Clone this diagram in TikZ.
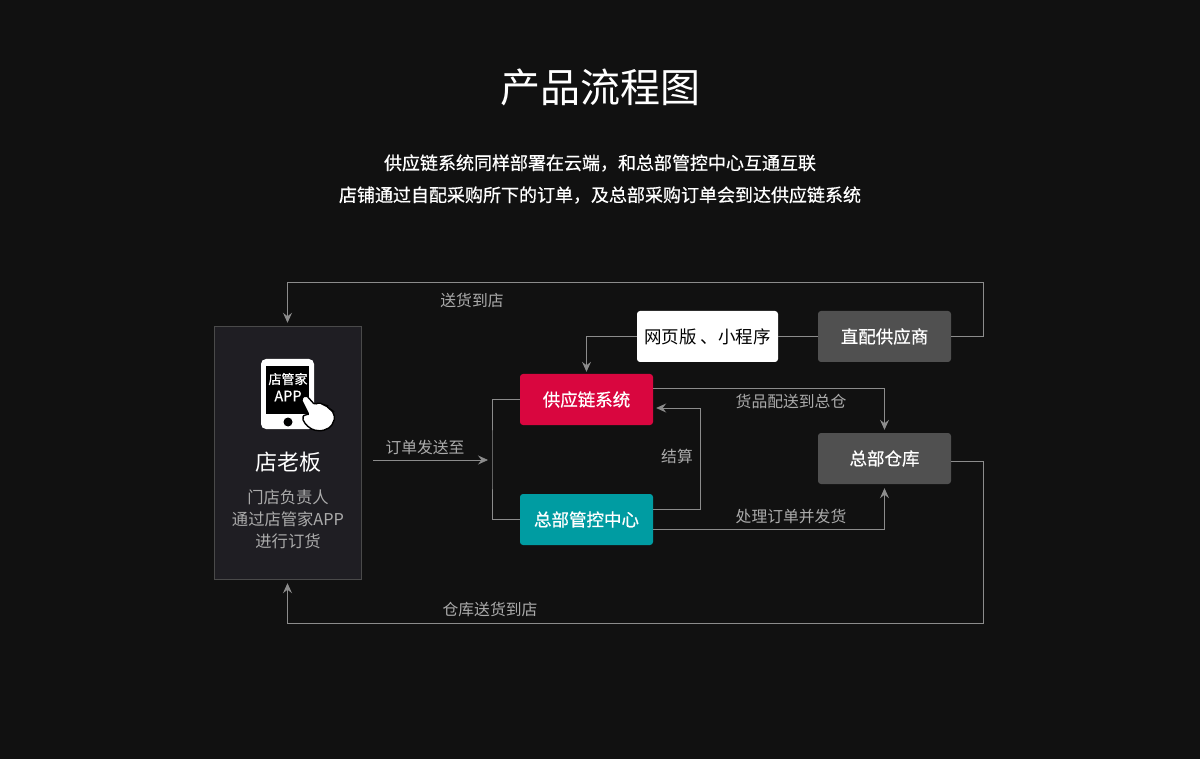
\documentclass[tikz,border=0pt]{standalone}
\usepackage{fontspec}
\setmainfont{Noto Sans CJK SC}
\newfontfamily\midfont{Noto Sans CJK SC}[FakeBold=0.6]
\usepackage{xcolor}
\usetikzlibrary{arrows.meta,positioning}

\definecolor{bgc}{HTML}{111111}
\definecolor{panelc}{HTML}{1F1E23}
\definecolor{edgec}{HTML}{4A4A4A}
\definecolor{linec}{HTML}{8C8C8C}
\definecolor{labelc}{HTML}{ABABAB}
\definecolor{redc}{HTML}{D9063F}
\definecolor{tealc}{HTML}{009CA2}
\definecolor{greyc}{HTML}{505050}

\begin{document}
\begin{tikzpicture}[
  x=1pt,y=-1pt,
  box/.style={rounded corners=3pt, minimum width=133pt, minimum height=51pt,
    inner sep=0pt, text=white, font=\midfont\fontsize{17.5}{20}\selectfont},
  lbl/.style={text=labelc, inner sep=0pt, font=\fontsize{15.8}{18}\selectfont},
  flow/.style={draw=linec, line width=0.8pt},
  ->,>={Stealth[length=10pt,width=9pt,inset=3.5pt]}
]
\fill[bgc] (0,0) rectangle (1200,759);
\useasboundingbox (0,0) rectangle (1200,759);

% title
\node[text=white, font=\fontsize{40}{44}\selectfont] (title) at (600,87) {产品流程图};
\node[text=white, align=center, font=\midfont\fontsize{18}{32}\selectfont] (sub) at (600,179)
  {供应链系统同样部署在云端，和总部管控中心互通互联\\店铺通过自配采购所下的订单，及总部采购订单会到达供应链系统};

% store owner panel
\node[draw=edgec, fill=panelc, minimum width=147pt, minimum height=253pt] (boss) at (287.5,452.5) {};
\fill[white, rounded corners=5pt] (261,359) rectangle (314,429);
\fill[black] (266,366) rectangle (309,414);
\fill[black] (288,422) circle (4.5);
\node[text=white, inner sep=0pt, font=\midfont\fontsize{13}{14}\selectfont] (appa) at (288,379) {店管家};
\node[text=white, inner sep=0pt, font=\midfont\fontsize{14.5}{15}\selectfont] (appb) at (288,396) {APP};
\filldraw[fill=white, draw=black, line width=1.4pt, rounded corners=2pt]
  (301,399) -- (306,395) -- (315,405) -- (319,402) -- (323,405) -- (326,405)
  -- (329,409) -- (332,410) -- (335,418) -- (331,427) -- (322,431) -- (313,430)
  -- (306,425) -- (302,418) -- (305,414) -- (309,415) -- cycle;
\node[text=white, font=\fontsize{22}{24}\selectfont] (bossname) at (288,462) {店老板};
\node[text=labelc, align=center, font=\fontsize{16.3}{22}\selectfont] (bossinfo) at (288,519)
  {门店负责人\\通过店管家APP\\进行订货};

% system boxes
\node[box, fill=redc] (supply) at (586.5,399.5) {供应链系统};
\node[box, fill=tealc] (hq) at (586.5,519.5) {总部管控中心};
\node[box, fill=white, text=black, minimum width=141pt,
  font=\fontsize{17.5}{20}\selectfont] (web) at (707.5,336.5) {网页版 、小程序};
\node[box, fill=greyc] (direct) at (884.5,336.5) {直配供应商};
\node[box, fill=greyc] (wh) at (884.5,458.5) {总部仓库};

\coordinate (topright) at (983,282);
\coordinate (botright) at (983,623);
\coordinate (brk) at (492,460);
\coordinate (ordfrom) at (373,460);

% connectors
\draw[flow, shorten >=3pt] (direct.east) -| (topright) -| (boss.north);
\draw[flow, shorten >=4pt] ([yshift=-2.5pt]wh.east) -| (botright) -| (boss.south);
\draw[flow, shorten >=4pt] (ordfrom) -- (brk);
\draw[flow, -] (supply.west) -| (brk) |- (hq.west);
\draw[flow, shorten >=2pt] (web.west) -| (supply.north);
\draw[flow, -] (web.east) -- (direct.west);
\draw[flow, shorten >=3pt] ([yshift=11.5pt]supply.east) -| (wh.north);
\draw[flow, shorten >=3pt] ([yshift=10pt]hq.east) -- ++(47,0) |- ([yshift=-8.5pt]supply.east);
\draw[flow, shorten >=4pt] ([yshift=-9.5pt]hq.east) -| (wh.south);

% labels
\node[lbl] (l1) at (472,300) {送货到店};
\node[lbl] (l2) at (490,609) {仓库送货到店};
\node[lbl] (l3) at (425,447) {订单发送至};
\node[lbl] (l4) at (791,401) {货品配送到总仓};
\node[lbl] (l5) at (677,456) {结算};
\node[lbl] (l6) at (791,517) {处理订单并发货};
\end{tikzpicture}
\end{document}
